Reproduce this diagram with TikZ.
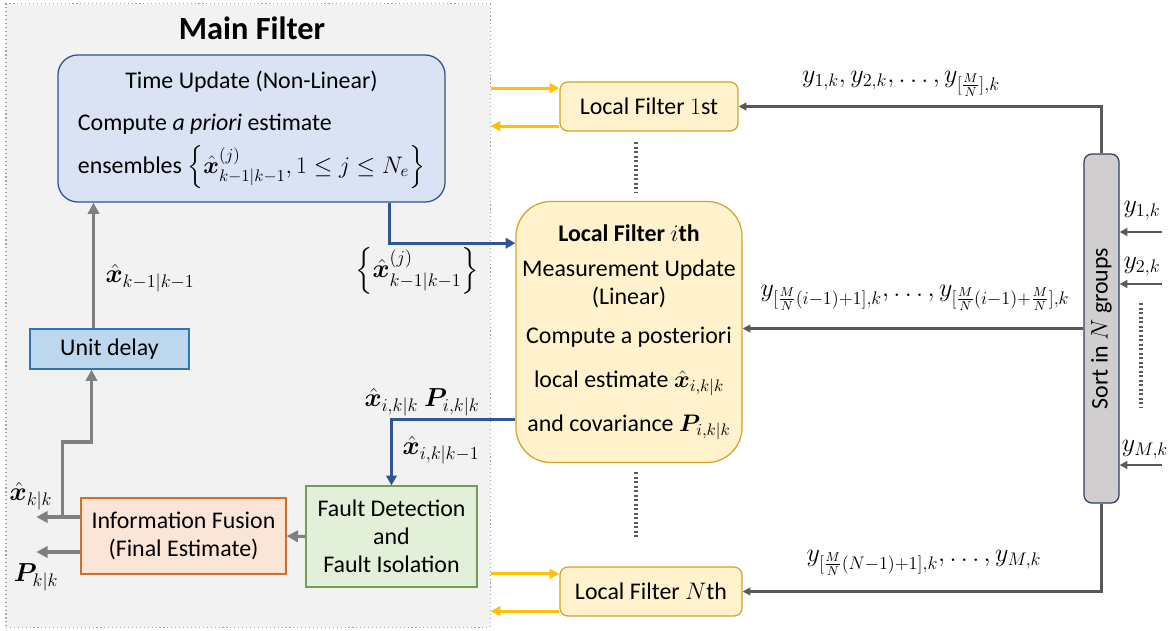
\RequirePackage{fix-cm}
\documentclass[tikz,border=0pt]{standalone}
\usepackage{amsmath}
\usepackage{amssymb}
\usepackage{bm}
\usepackage{graphicx}
\usepackage{fontspec}
\setmainfont{Carlito}
\usepackage{tikz}
\usetikzlibrary{
  positioning,
  arrows.meta,
  calc
}
\definecolor{framebg}{RGB}{242,242,242}
\definecolor{frameborder}{RGB}{160,160,160}
\definecolor{timebg}{RGB}{218,227,243}
\definecolor{timeborder}{RGB}{47,82,143}
\definecolor{delaybg}{RGB}{189,215,238}
\definecolor{delayborder}{RGB}{46,117,182}
\definecolor{fusionbg}{RGB}{251,229,214}
\definecolor{fusionborder}{RGB}{210,110,40}
\definecolor{faultbg}{RGB}{226,240,217}
\definecolor{faultborder}{RGB}{112,160,80}
\definecolor{localbg}{RGB}{255,242,204}
\definecolor{localborder}{RGB}{210,165,40}
\definecolor{sortbg}{RGB}{208,206,206}
\definecolor{sortborder}{RGB}{47,64,96}
\definecolor{flowblue}{RGB}{47,85,151}
\definecolor{flowgray}{RGB}{128,128,128}
\definecolor{flowdark}{RGB}{89,89,89}
\definecolor{flowyellow}{RGB}{255,192,0}
\tikzset{
  basebox/.style={
    line width=0.9pt, inner sep=0pt, align=center,
    font=\fontsize{17}{20}\selectfont
  },
  framebox/.style={
    draw=frameborder, fill=framebg, dotted, line width=0.8pt,
    minimum width=12.1cm, minimum height=15.575cm
  },
  timebox/.style={
    basebox, draw=timeborder, fill=timebg, rounded corners=0.5cm,
    minimum width=9.675cm, minimum height=3.675cm
  },
  delaybox/.style={
    basebox, draw=delayborder, fill=delaybg,
    minimum width=3.975cm, minimum height=1.0cm
  },
  fusionbox/.style={
    basebox, draw=fusionborder, fill=fusionbg,
    minimum width=5.125cm, minimum height=1.9cm
  },
  faultbox/.style={
    basebox, draw=faultborder, fill=faultbg,
    minimum width=4.275cm, minimum height=2.525cm
  },
  localbox/.style={
    basebox, draw=localborder, fill=localbg, rounded corners=0.2cm,
    minimum width=4.5cm, minimum height=1.225cm
  },
  sortbox/.style={
    basebox, draw=sortborder, fill=sortbg, rounded corners=0.2cm,
    minimum width=0.875cm, minimum height=8.725cm
  },
  lbl/.style={
    inner sep=0pt, font=\fontsize{18.5}{22}\selectfont
  },
  grayarrow/.style={
    -{Triangle[length=8pt,width=8pt]}, line width=2.2pt, draw=flowgray
  },
  bluearrow/.style={
    -{Triangle[length=7pt,width=7.5pt]}, line width=2.2pt, draw=flowblue
  },
  yellowarrow/.style={
    -{Triangle[length=7pt,width=7pt]}, line width=2.2pt, draw=flowyellow
  },
  darkarrow/.style={
    -{Triangle[length=5.5pt,width=5.5pt]}, line width=1.6pt, draw=flowdark
  },
  dotline/.style={
    draw=flowdark, line width=2.4pt, dash pattern=on 1.6pt off 1.6pt
  }
}

\begin{document}
\begin{tikzpicture}[x=0.025cm, y=-0.025cm]
  \useasboundingbox (0,0) rectangle (1171,631);

  % main filter frame
  \node[framebox] (mf) at (248,315.5) {};
  \node[lbl, font=\fontsize{23}{27}\selectfont\bfseries] (mftitle) at (252,28) {Main Filter};

  % boxes of the main filter
  \node[timebox] (tu) at (251.5,128.5) {%
    \begin{tabular}{@{}l@{}}
      \multicolumn{1}{@{}c@{}}{Time Update (Non-Linear)}\\[10pt]
      Compute \emph{a priori} estimate\\[5pt]
      ensembles $\left\{\hat{\bm{x}}^{(j)}_{k-1|k-1}, 1\le j\le N_e\right\}$
    \end{tabular}};
  \node[delaybox] (ud) at (109.5,349) {Unit delay};
  \node[fusionbox] (fus) at (183.5,536) {Information Fusion\\(Final Estimate)};
  \node[faultbox] (fd) at (391.5,536.5) {Fault Detection\\and\\Fault Isolation};

  % local filters
  \node[localbox, minimum width=4.45cm] (lf1) at (649,106.5) {Local Filter $1$st};
  \node[localbox, rounded corners=0.875cm, minimum width=5.65cm, minimum height=6.525cm] (lfi) at (629,332) {%
    \textbf{Local Filter $i$th}\\[5pt]
    Measurement Update\\
    (Linear)\\[8pt]
    Compute a posteriori\\[11pt]
    local estimate $\hat{\bm{x}}_{i,k|k}$\\[11pt]
    and covariance $\bm{P}_{i,k|k}$};
  \node[localbox, minimum width=4.55cm] (lfn) at (651,591.5) {Local Filter $N$th};

  \node[sortbox] (sort) at (1101.5,328.5) {\rotatebox{90}{Sort in $N$ groups}};

  % loop inside the main filter
  \draw[grayarrow] ([xshift=-0.4cm]ud.north) -- ([xshift=-0.4cm]ud.north |- tu.south);
  \node[lbl] (lxprev) at (150,278) {$\hat{\bm{x}}_{k-1|k-1}$};
  \draw[grayarrow] (fd.west) -- (fus.east);
  \draw[grayarrow] ([yshift=0.475cm]fus.west) -- ++(-1.1cm,0cm) coordinate (xout);
  \draw[grayarrow] ([yshift=-0.4cm]fus.west) -- ++(-1.1cm,0cm) coordinate (pout);
  \draw[grayarrow] ([shift={(-0.45cm,0.475cm)}]fus.west) -- ++(0cm,1.875cm) -| ([xshift=-0.45cm]ud.south);
  \node[lbl] (lxout) at (31,496) {$\hat{\bm{x}}_{k|k}$};
  \node[lbl] (lpout) at (36,577) {$\bm{P}_{k|k}$};

  % exchange with the i-th local filter
  \draw[bluearrow] ([xshift=3.46cm]tu.south) |- ([yshift=2.22cm]lfi.west);
  \node[lbl] (lens) at (417,271) {$\left\{\hat{\bm{x}}^{(j)}_{k-1|k-1}\right\}$};
  \draw[bluearrow] ([yshift=-2.18cm]lfi.west) -| (fd.north);
  \node[lbl] (lpost) at (422,402) {$\hat{\bm{x}}_{i,k|k}\ \bm{P}_{i,k|k}$};
  \node[lbl] (lprior) at (441,450) {$\hat{\bm{x}}_{i,k|k-1}$};

  % exchange with the 1st and N-th local filters
  \draw[yellowarrow] ([yshift=0.46cm]lf1.west -| mf.east) -- ([yshift=0.46cm]lf1.west);
  \draw[yellowarrow] ([yshift=-0.49cm]lf1.west) -- ([yshift=-0.49cm]lf1.west -| mf.east);
  \draw[yellowarrow] ([yshift=0.44cm]lfn.west -| mf.east) -- ([yshift=0.44cm]lfn.west);
  \draw[yellowarrow] ([yshift=-0.49cm]lfn.west) -- ([yshift=-0.49cm]lfn.west -| mf.east);

  \draw[dotline] (636,142) -- (636,192);
  \draw[dotline] (636,472) -- (636,537);

  % measurement groups
  \draw[darkarrow] (sort.north) |- (lf1.east);
  \node[lbl] (lgrp1) at (901,84) {$y_{1,k}, y_{2,k}, \ldots, y_{[\frac{M}{N}],k}$};
  \draw[darkarrow] (sort.west) -- (sort.west -| lfi.east);
  \node[lbl] (lgrpi) at (915,298) {$y_{[\frac{M}{N}(i-1)+1],k}, \ldots, y_{[\frac{M}{N}(i-1)+\frac{M}{N}],k}$};
  \draw[darkarrow] (sort.south) |- (lfn.east);
  \node[lbl] (lgrpn) at (924,563) {$y_{[\frac{M}{N}(N-1)+1],k}, \ldots, y_{M,k}$};

  % raw measurements
  \coordinate (in1) at (1162,232);
  \coordinate (in2) at (1162,284);
  \coordinate (inm) at (1162,465);
  \draw[darkarrow] (in1) -- (in1 -| sort.east);
  \draw[darkarrow] (in2) -- (in2 -| sort.east);
  \draw[darkarrow] (inm) -- (inm -| sort.east);
  \node[lbl] (ly1) at (1142,211) {$y_{1,k}$};
  \node[lbl] (ly2) at (1142,267) {$y_{2,k}$};
  \node[lbl] (lym) at (1145,450) {$y_{M,k}$};
  \draw[dotline] (1141,303) -- (1141,408);

\end{tikzpicture}
\end{document}
